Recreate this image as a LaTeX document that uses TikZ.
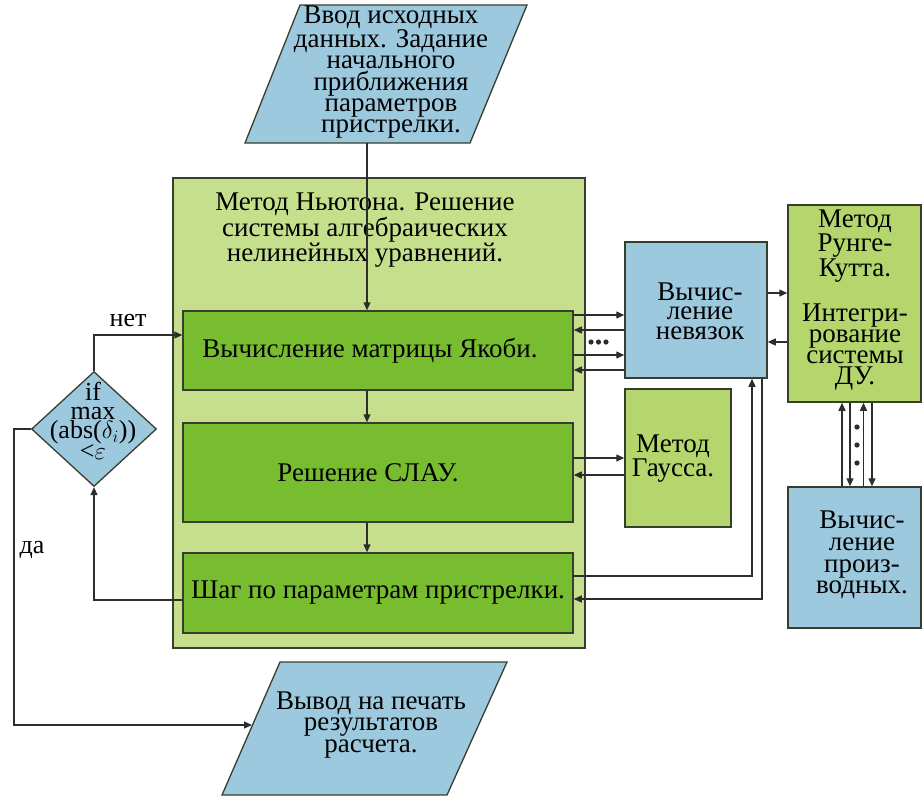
\documentclass[tikz,border=0pt]{standalone}
\usepackage{fontspec}
\setmainfont{Liberation Serif}
\usetikzlibrary{shapes.geometric,arrows.meta,calc}
\definecolor{cblue}{RGB}{157,201,222}
\definecolor{cbig}{RGB}{198,223,140}
\definecolor{cdark}{RGB}{120,189,48}
\definecolor{cmid}{RGB}{180,214,108}
\definecolor{cborder}{RGB}{55,62,45}
\definecolor{cline}{RGB}{45,45,45}
\newcommand\myfs{\fontspec{Liberation Serif}\fontsize{27}{21.4}\selectfont}
\newcommand\mysmall{\fontspec{Liberation Serif}\fontsize{26}{19}\selectfont}
\begin{document}
\begin{tikzpicture}[x=1pt,y=-1pt,
  box/.style={draw=cborder, line width=1.5pt, inner sep=0pt, align=center, font=\myfs},
  txt/.style={inner sep=0pt, align=center, font=\myfs},
  arr/.style={draw=cline, line width=1.3pt, -{Triangle[length=8pt,width=7pt]}},
  ln/.style={draw=cline, line width=1.3pt},
  dotc/.style={fill=cline}
]
\useasboundingbox (0,0) rectangle (923,796);

% input parallelogram
\filldraw[fill=cblue, draw=cborder, line width=1.3pt] (300,5) -- (527,5) -- (470,143) -- (245,143) -- cycle;
\node[txt] (in) at (391,72) {Ввод исходных\\данных. Задание\\начального\\приближения\\параметров\\пристрелки.};
\coordinate (inB) at (367,143);

% big Newton box
\node[box, fill=cbig, minimum width=412pt, minimum height=470pt] (newton) at (379,413) {};
\node[txt, font=\fontspec{Liberation Serif}\fontsize{27}{22}\selectfont] (ntitle) at (365,230) {Метод Ньютона. Решение\\системы алгебраических\\нелинейных уравнений.};

% inner boxes
\node[box, fill=cdark, minimum width=390pt, minimum height=79pt,
  label={[txt, xshift=-8pt]center:Вычисление матрицы Якоби.}] (jac) at (378,350.5) {};
\node[box, fill=cdark, minimum width=390pt, minimum height=99pt,
  label={[txt, xshift=-10pt]center:Решение СЛАУ.}] (slau) at (378,472.5) {};
\node[box, fill=cdark, minimum width=390pt, minimum height=80pt] (shag) at (378,593) {Шаг по параметрам пристрелки.};

% right boxes
\node[box, fill=cblue, minimum width=142pt, minimum height=136pt] (nev) at (696,310) {};
\node[txt, font=\fontspec{Liberation Serif}\fontsize{27}{19.5}\selectfont] (nevt) at (700,311) {Вычис-\\ление\\невязок};
\node[box, fill=cmid, minimum width=106pt, minimum height=138pt] (gauss) at (678,458) {};
\node[txt] (gausst) at (673,459) {Метод\\Гаусса.};
\node[box, fill=cmid, minimum width=133pt, minimum height=197pt] (runge) at (854.5,303.5) {};
\node[txt, font=\fontspec{Liberation Serif}\fontsize{27}{20.8}\selectfont] (runget) at (855,300) {Метод\\Рунге-\\Кутта.\\[20.8pt]Интегри-\\рование\\системы\\ДУ.};
\node[box, fill=cblue, minimum width=133pt, minimum height=141pt] (deriv) at (854.5,557.5) {};
\node[txt, font=\fontspec{Liberation Serif}\fontsize{27}{21.7}\selectfont] (derivt) at (862,555) {Вычис-\\ление\\произ-\\водных.};

% decision diamond
\node[diamond, draw=cborder, line width=1.3pt, fill=cblue, minimum width=125pt, minimum height=115pt, inner sep=0pt] (dec) at (94,429) {};
\node[txt, font=\mysmall] (dect) at (93,421) {if\\max\\(abs($\delta_i$))\\<$\varepsilon$};

% output parallelogram
\filldraw[fill=cblue, draw=cborder, line width=1.3pt] (280,662) -- (507,662) -- (447,795) -- (222,795) -- cycle;
\node[txt] (out) at (371,725) {Вывод на печать\\результатов\\расчета.};
\coordinate (outL) at (252,725);

% vertical flow
\draw[arr] (inB) -- (inB |- jac.north);
\draw[arr] (jac.south -| inB) -- (slau.north -| inB);
\draw[arr] (slau.south -| inB) -- (shag.north -| inB);

% loop back to decision
\draw[arr] (shag.west |- 0,600) -| (dec.south);
\draw[arr] (dec.north) |- (jac.west |- 0,335);
\node[txt, font=\mysmall] (net) at (128,320) {нет};
\draw[arr] (dec.west) -- ++(-17,0) |- (outL);
\node[txt, font=\mysmall] (da) at (32,550) {да};

% jac <-> nev
\draw[arr] (jac.east |- 0,315) -- (nev.west |- 0,315);
\draw[arr] (nev.west |- 0,330) -- (jac.east |- 0,330);
\draw[arr] (jac.east |- 0,355) -- (nev.west |- 0,355);
\draw[arr] (nev.west |- 0,370) -- (jac.east |- 0,370);
\foreach \xx in {591,598.5,606} \fill[dotc] (\xx,342) circle (2.6pt);

% nev <-> runge
\draw[arr] (nev.east |- 0,293) -- (runge.west |- 0,293);
\draw[arr] (runge.west |- 0,342) -- (nev.east |- 0,342);

% slau <-> gauss
\draw[arr] (slau.east |- 0,458) -- (gauss.west |- 0,458);
\draw[arr] (gauss.west |- 0,475) -- (slau.east |- 0,475);

% shag <-> nev
\draw[arr] (shag.east |- 0,576) -| ([xshift=56pt]nev.south);
\draw[arr] ([xshift=66pt]nev.south) |- (shag.east |- 0,599);

% runge <-> deriv
\draw[arr] (deriv.north -| 842,0) -- (runge.south -| 842,0);
\draw[arr] (runge.south -| 850,0) -- (deriv.north -| 850,0);
\draw[arr] (deriv.north -| 863.5,0) -- (runge.south -| 863.5,0);
\draw[arr] (runge.south -| 872,0) -- (deriv.north -| 872,0);
\foreach \yy in {427,445,463} \fill[dotc] (857,\yy) circle (2.6pt);
\end{tikzpicture}
\end{document}
